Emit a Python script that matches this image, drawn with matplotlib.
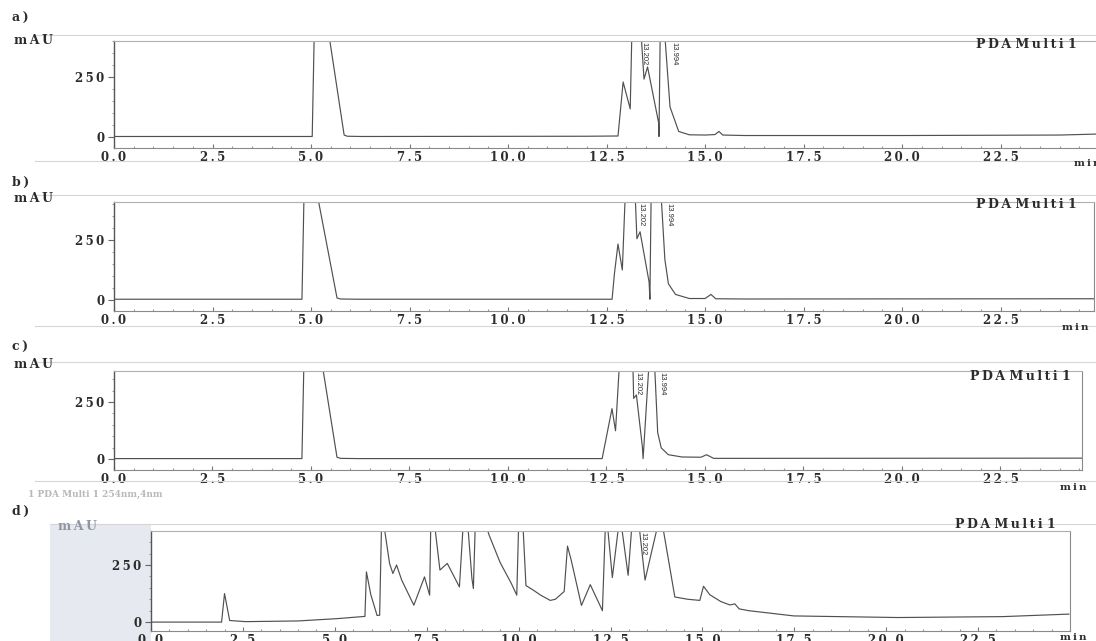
import matplotlib
matplotlib.use("Agg")
import matplotlib.pyplot as plt
from matplotlib.patches import Rectangle
from matplotlib.lines import Line2D
from matplotlib.ticker import MultipleLocator, FixedLocator

W, H = 1096, 641

# ---------------- data (time in min, absorbance in mAU; 420 = off scale) ----------------
a_time = [0.0, 5.03, 5.08, 5.46, 5.84, 5.92, 6.3, 12.0, 12.79, 12.92, 13.10, 13.14, 13.38, 13.45,
          13.54, 13.82, 13.83, 13.86, 13.98, 14.11, 14.33, 14.6, 15.0, 15.25, 15.35, 15.45, 16.0,
          20.0, 24.0, 24.92]
a_mau = [2, 2, 420, 420, 8, 3, 2, 3, 4, 229, 117, 420, 420, 241,
         292, 60, 2, 420, 420, 125, 23, 9, 8, 10, 23, 8, 6,
         6, 8, 12]

b_time = [0.0, 4.77, 4.82, 5.18, 5.66, 5.75, 6.2, 12.64, 12.70, 12.79, 12.90, 12.97, 13.23, 13.27,
          13.35, 13.58, 13.60, 13.63, 13.89, 13.98, 14.07, 14.25, 14.6, 15.0, 15.15, 15.27, 16.0,
          24.87]
b_mau = [3, 3, 420, 420, 8, 4, 3, 3, 110, 233, 125, 420, 420, 255,
         284, 74, 3, 420, 420, 168, 67, 23, 6, 6, 23, 5, 4,
         5]

c_time = [0.0, 4.77, 4.82, 5.28, 5.66, 5.75, 6.2, 12.39, 12.64, 12.73, 12.83, 13.17, 13.19, 13.26,
          13.41, 13.43, 13.58, 13.72, 13.80, 13.89, 14.07, 14.42, 14.9, 15.04, 15.22, 16.0, 24.57]
c_mau = [2, 2, 420, 420, 8, 3, 2, 2, 221, 124, 420, 420, 266, 281,
         56, 2, 420, 420, 116, 49, 19, 9, 8, 19, 3, 3, 4]

d_time = [0.0, 1.92, 2.0, 2.14, 2.57, 4.0, 5.05, 5.82, 5.86, 5.98, 6.15, 6.22, 6.27, 6.34,
          6.49, 6.58, 6.68, 6.82, 7.15, 7.44, 7.58, 7.61, 7.72, 7.86, 8.06, 8.39, 8.49, 8.62,
          8.73, 8.77, 8.82, 9.06, 9.12, 9.2, 9.5, 9.8, 9.95, 10.0, 10.12, 10.2, 10.4, 10.6,
          10.86, 11.0, 11.24, 11.33, 11.43, 11.71, 11.95, 12.28, 12.36, 12.42, 12.55, 12.72,
          12.80, 12.98, 13.08, 13.28, 13.44, 13.78, 13.92, 14.25, 14.6, 14.93, 15.03, 15.2,
          15.5, 15.75, 15.88, 16.0, 16.26, 17.49, 20.33, 23.17, 24.97]
d_mau = [0, 0, 125, 7, 2, 5, 15, 25, 220, 120, 29, 30, 420, 420,
         257, 213, 250, 184, 74, 198, 118, 420, 420, 228, 257, 154, 420, 420,
         191, 147, 420, 420, 420, 380, 260, 170, 118, 420, 420, 160, 140, 118,
         95, 100, 134, 333, 272, 73, 164, 50, 420, 420, 195, 420,
         420, 205, 420, 420, 184, 420, 420, 110, 100, 95, 157, 120,
         90, 75, 80, 58, 50, 27, 20, 24, 35]

x_ticks = [0.0, 2.5, 5.0, 7.5, 10.0, 12.5, 15.0, 17.5, 20.0, 22.5]
x_tick_labels = ["0.0", "2.5", "5.0", "7.5", "10.0", "12.5", "15.0", "17.5", "20.0", "22.5"]
y_ticks = [0, 250]
panel_names = ["a)", "b)", "c)", "d)"]
peak_labels_abc = ["13.202", "13.994"]
peak_labels_d = ["13.202"]

# ---------------- drawing ----------------
SERIF = ['DejaVu Serif', 'Liberation Serif']
plt.rcParams['font.family'] = SERIF
fig = plt.figure(figsize=(W / 100, H / 100), dpi=100)
fig.patch.set_facecolor("white")

LINE = "#505050"
TXT = "#2b2b2b"
FONT = dict(family=SERIF, weight='bold')
TS = "\u2009"


def spaced(s):
    return TS.join(s)


def px_axes(L, R, T, B):
    return fig.add_axes([L / W, 1 - B / H, (R - L) / W, (B - T) / H])


def ftext(x, y, s, **kw):
    fig.text(x / W, 1 - y / H, s, **kw)


def fline(x0, x1, y0, y1, **kw):
    fig.add_artist(Line2D([x0 / W, x1 / W], [1 - y0 / H, 1 - y1 / H], transform=fig.transFigure, **kw))


# panel d grey scan background
fig.add_artist(Rectangle((50 / W, 0), (151 - 50) / W, 1 - 524 / H, transform=fig.transFigure,
                         facecolor="#e6e9ef", edgecolor="none", zorder=0))

panels = [
    dict(t=a_time, y=a_mau, L=114, R=1096, T=41, B=148, xmax=24.92, ylim=(-46, 400), right=False,
         name_y=18, mau=(14, 40), pda=(976, 44), mn=(1074, 164), frame=(35, 161),
         labels=peak_labels_abc, label_t=[13.45, 14.2]),
    dict(t=b_time, y=b_mau, L=114, R=1094, T=202, B=311, xmax=24.87, ylim=(-46, 408), right=True,
         name_y=182, mau=(14, 199), pda=(976, 205), mn=(1062, 327), frame=(195, 326),
         labels=peak_labels_abc, label_t=[13.38, 14.08]),
    dict(t=c_time, y=c_mau, L=114, R=1082, T=371, B=470, xmax=24.57, ylim=(-48, 386), right=True,
         name_y=347, mau=(14, 365), pda=(970, 377), mn=(1060, 488), frame=(362, 481),
         labels=peak_labels_abc, label_t=[13.3, 13.92]),
    dict(t=d_time, y=d_mau, L=151, R=1070, T=531, B=631, xmax=25.0, ylim=(-39, 399), right=True,
         name_y=511, mau=(58, 527), pda=(955, 525), mn=(1060, 637), frame=(524, None),
         labels=peak_labels_d, label_t=[13.38]),
]

for i, p in enumerate(panels):
    ax = px_axes(p['L'], p['R'], p['T'], p['B'])
    ax.set_facecolor("white")
    ax.plot(p['t'], p['y'], color=LINE, lw=0.85, clip_on=True)
    ax.set_xlim(0, p['xmax'])
    ax.set_ylim(*p['ylim'])
    for s in ['top', 'left', 'bottom', 'right']:
        ax.spines[s].set_color("#8a8a8a")
        ax.spines[s].set_linewidth(0.8)
    ax.spines['left'].set_color("#555555")
    ax.spines['left'].set_linewidth(1.0)
    ax.spines['top'].set_color("#b0b0b0")
    ax.spines['right'].set_visible(p['right'])
    ax.xaxis.set_major_locator(FixedLocator(x_ticks))
    ax.set_xticklabels([spaced(s) for s in x_tick_labels])
    ax.xaxis.set_minor_locator(MultipleLocator(0.5))
    ax.yaxis.set_major_locator(FixedLocator(y_ticks))
    ax.set_yticklabels([spaced(str(v)) for v in y_ticks])
    ax.yaxis.set_minor_locator(MultipleLocator(50))
    ax.tick_params(axis='x', which='major', direction='in', length=3, width=0.8, color="#777777",
                   pad=2.5, labelsize=8.5, labelcolor=TXT)
    ax.tick_params(axis='x', which='minor', direction='in', length=1.5, width=0.8, color="#999999")
    ax.tick_params(axis='y', which='major', direction='out', length=4, width=0.8, color="#666666",
                   pad=3, labelsize=8.5, labelcolor=TXT)
    ax.tick_params(axis='y', which='minor', direction='out', length=1.5, width=0.6, color="#888888")
    for lab in ax.get_xticklabels() + ax.get_yticklabels():
        lab.set_fontweight('bold')
    # peak retention-time labels
    for lab, tt in zip(p['labels'], p['label_t']):
        ax.text(tt, p['ylim'][1] * 0.985, lab, rotation=270, va='top', ha='center', fontsize=5.5,
                color=TXT, family=['Liberation Sans', 'DejaVu Sans'])

    # frame lines of the scanned panel
    ftop, fbot = p['frame']
    fline(35 if i < 3 else 50, W, ftop, ftop, color="#d6d6d6", lw=0.8)
    if fbot is not None:
        fline(35, W, fbot, fbot, color="#d6d6d6", lw=0.8)

    ftext(12, p['name_y'], spaced(panel_names[i]), fontsize=9, color=TXT, va='center', ha='left',
          **FONT)
    ftext(p['mau'][0], p['mau'][1], spaced("mAU"), fontsize=9,
          color=TXT if i < 3 else "#8d97a3", va='center', ha='left', **FONT)
    ftext(p['pda'][0], p['pda'][1], spaced("PDA") + " " + spaced("Multi") + " 1", fontsize=9,
          color=TXT, va='center', ha='left', **FONT)
    ftext(p['mn'][0], p['mn'][1], spaced("min"), fontsize=7.5, color=TXT, va='center', ha='left',
          **FONT)

# faint scanned caption remnant under panel c
ftext(28, 494, "1 PDA Multi 1 254nm,4nm", fontsize=6.5, color="#b8b8b8", va='center', ha='left',
      **FONT)

fig.savefig("out.png", dpi=100, facecolor="white")
